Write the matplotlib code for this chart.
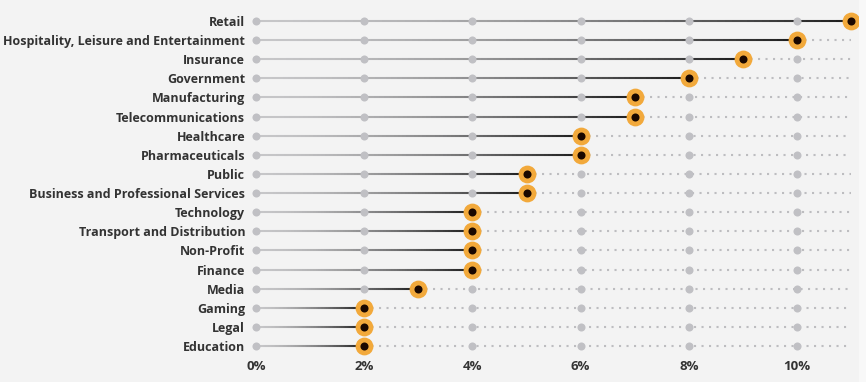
import numpy as np
import matplotlib
matplotlib.use("Agg")
import matplotlib.pyplot as plt
from matplotlib.collections import LineCollection
from matplotlib.colors import to_rgb
from matplotlib.patches import Rectangle

sectors = ["Retail", "Hospitality, Leisure and Entertainment", "Insurance", "Government",
           "Manufacturing", "Telecommunications", "Healthcare", "Pharmaceuticals", "Public",
           "Business and Professional Services", "Technology", "Transport and Distribution",
           "Non-Profit", "Finance", "Media", "Gaming", "Legal", "Education"]
share = [11, 10, 9, 8, 7, 7, 6, 6, 5, 5, 4, 4, 4, 4, 3, 2, 2, 2]
grid_ticks = [0, 2, 4, 6, 8, 10]
tick_labels = ["0%", "2%", "4%", "6%", "8%", "10%"]
x_end = 11

plt.rcParams["font.family"] = ["Open Sans", "DejaVu Sans"]

bg = "#f3f3f3"
fig = plt.figure(figsize=(8.66, 3.82), dpi=100, facecolor=bg)
fig.patches.append(Rectangle((859 / 866, 0), 7 / 866, 1, transform=fig.transFigure,
                             facecolor="#f8f8f8", edgecolor="none", zorder=0))
W, H = 866, 382
# axes: x pixels 248..858, y pixels 8..360
ax = fig.add_axes([248 / W, 1 - 360 / H, (858 - 248) / W, (360 - 8) / H])
ax.set_facecolor(bg)
px_per = 54.1
ax.set_xlim((248 - 256) / px_per, (858 - 256) / px_per)
row_h = (346 - 21) / 17
ax.set_ylim(17 + (360 - 346) / row_h, -(21 - 8) / row_h)

light = np.array(to_rgb("#c6c6c8"))
dark = np.array(to_rgb("#1c1c1c"))

for i, v in enumerate(share):
    # gradient stem from 0 to the value
    n = 80
    xs = np.linspace(0, v, n + 1)
    segs = [[(xs[k], i), (xs[k + 1], i)] for k in range(n)]
    t = np.linspace(0, 1, n) ** 1.6
    cols = light[None, :] * (1 - t[:, None]) + dark[None, :] * t[:, None]
    ax.add_collection(LineCollection(segs, colors=cols, linewidths=1.5, zorder=2,
                                     capstyle="butt"))
    # dotted remainder
    if v < x_end:
        ax.plot([v, x_end], [i, i], color="#bdbdc0", lw=1.5, ls=(0, (1, 2.6)), zorder=1)
    # grid dots
    ax.plot(grid_ticks, [i] * len(grid_ticks), ls="none", marker="o", ms=5.8,
            color="#c0c0c4", mec="none", zorder=3)
    # value marker
    ax.plot([v], [i], marker="o", ms=12.8, color="#f2a93b", mec="none", zorder=4)
    ax.plot([v], [i], marker="o", ms=5.8, color="#1a0800", mec="none", zorder=5)

ax.set_yticks(range(len(sectors)))
ax.set_yticklabels(sectors, fontsize=9, fontweight="bold", color="#333333")
ax.set_xticks(grid_ticks)
ax.set_xticklabels(tick_labels, fontsize=9.5, fontweight="bold", color="#333333")
ax.tick_params(length=0)
ax.tick_params(axis="y", pad=2)
ax.tick_params(axis="x", pad=0)
for s in ax.spines.values():
    s.set_visible(False)

fig.savefig("out.png", dpi=100, facecolor=bg)
